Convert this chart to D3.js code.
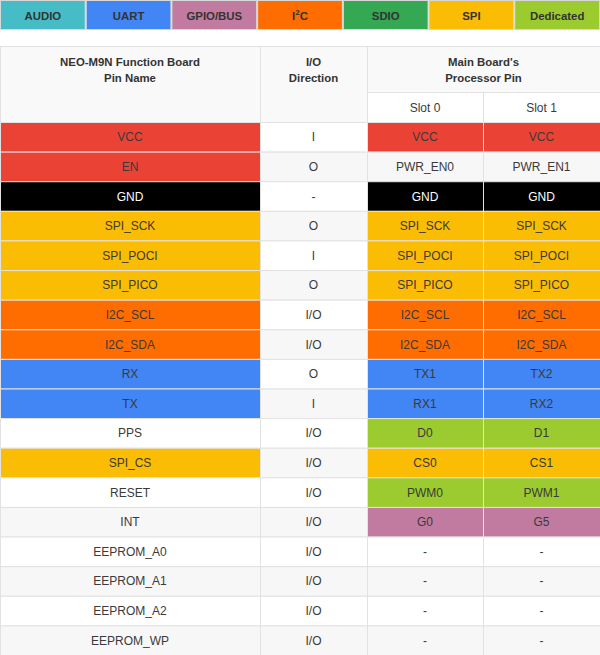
<!DOCTYPE html>
<html>
<head>
<meta charset="utf-8">
<script src="https://cdn.jsdelivr.net/npm/d3@7"></script>
<style>
  html, body { margin: 0; padding: 0; background: #fff; }
  svg { display: block; font-family: "Liberation Sans", Arial, sans-serif; }
</style>
</head>
<body>
<svg id="chart" width="600" height="655"></svg>
<script>
// ---------- data ----------
const legendLabels = ["AUDIO", "UART", "GPIO/BUS", "I2C", "SDIO", "SPI", "Dedicated"];
const legendKeys   = ["audio", "uart", "gpio", "i2c", "sdio", "spi", "dedicated"];

const pinNames = ["VCC", "EN", "GND", "SPI_SCK", "SPI_POCI", "SPI_PICO", "I2C_SCL", "I2C_SDA",
  "RX", "TX", "PPS", "SPI_CS", "RESET", "INT", "EEPROM_A0", "EEPROM_A1", "EEPROM_A2", "EEPROM_WP"];
const ioDirections = ["I", "O", "-", "O", "I", "O", "I/O", "I/O", "O", "I", "I/O", "I/O", "I/O", "I/O",
  "I/O", "I/O", "I/O", "I/O"];
const slot0Pins = ["VCC", "PWR_EN0", "GND", "SPI_SCK", "SPI_POCI", "SPI_PICO", "I2C_SCL", "I2C_SDA",
  "TX1", "RX1", "D0", "CS0", "PWM0", "G0", "-", "-", "-", "-"];
const slot1Pins = ["VCC", "PWR_EN1", "GND", "SPI_SCK", "SPI_POCI", "SPI_PICO", "I2C_SCL", "I2C_SDA",
  "TX2", "RX2", "D1", "CS1", "PWM1", "G5", "-", "-", "-", "-"];
const pinCategory = ["power", "power", "gnd", "spi", "spi", "spi", "i2c", "i2c", "uart", "uart",
  "none", "spi", "none", "none", "none", "none", "none", "none"];
const slotCategory = ["power", "none", "gnd", "spi", "spi", "spi", "i2c", "i2c", "uart", "uart",
  "dedicated", "spi", "dedicated", "gpio", "none", "none", "none", "none"];

const headerCol1 = ["NEO-M9N Function Board", "Pin Name"];
const headerCol2 = ["I/O", "Direction"];
const headerMain = ["Main Board's", "Processor Pin"];
const slotLabels = ["Slot 0", "Slot 1"];

// ---------- scales ----------
const W = 600;
const color = d3.scaleOrdinal()
  .domain(["audio", "uart", "gpio", "i2c", "sdio", "spi", "dedicated", "power", "gnd"])
  .range(["#46bdc6", "#4285f4", "#c27ba0", "#ff6d01", "#34a853", "#fbbc04", "#9bcb2f", "#ea4335", "#000000"]);

const legendX = d3.scaleBand().domain(legendKeys).range([0, W]);
const colEdges = [0, 260, 367, 483, 600];
const rowY = d3.scaleBand().domain(d3.range(pinNames.length)).range([122, 655]);

const svg = d3.select("#chart");
const textColor = "#333";
const bodyColor = "#3a3a3a";
const border = "#e2e2e2";
const boldSize = 11.4;

// ---------- legend ----------
const lg = svg.append("g");
lg.selectAll("rect").data(legendKeys).join("rect")
  .attr("x", d => legendX(d) + 0.5).attr("y", 0.5)
  .attr("width", legendX.bandwidth() - 1).attr("height", 29)
  .attr("fill", d => color(d)).attr("stroke", "#d8d8d8").attr("stroke-width", 1);
const lt = lg.selectAll("text").data(legendKeys).join("text")
  .attr("x", d => legendX(d) + legendX.bandwidth() / 2).attr("y", 19.5)
  .attr("text-anchor", "middle").attr("font-size", boldSize).attr("font-weight", "bold")
  .attr("fill", textColor);
lt.each(function (d, i) {
  const t = d3.select(this);
  const label = legendLabels[i];
  if (label === "I2C") {
    t.append("tspan").text("I");
    t.append("tspan").text("2").attr("font-size", 8).attr("dy", -5);
    t.append("tspan").text("C").attr("dy", 5);
  } else t.text(label);
});

// ---------- header ----------
const hg = svg.append("g");
function cell(g, x0, x1, y0, y1, fill) {
  g.append("rect").attr("x", x0 + 0.5).attr("y", y0 + 0.5)
    .attr("width", x1 - x0).attr("height", y1 - y0)
    .attr("fill", fill).attr("stroke", border).attr("stroke-width", 1);
}
const hTop = 46, hMid = 92, hBot = rowY(0);
cell(hg, colEdges[0], colEdges[1], hTop, hBot, "#f9f9f9");
cell(hg, colEdges[1], colEdges[2], hTop, hBot, "#f9f9f9");
cell(hg, colEdges[2], colEdges[4], hTop, hMid, "#f9f9f9");
cell(hg, colEdges[2], colEdges[3], hMid, hBot, "#ffffff");
cell(hg, colEdges[3], colEdges[4], hMid, hBot, "#ffffff");

function headText(lines, x) {
  hg.append("g").selectAll("text").data(lines).join("text")
    .attr("x", x).attr("y", (d, i) => 65.5 + i * 16)
    .attr("text-anchor", "middle").attr("font-size", boldSize).attr("font-weight", "bold")
    .attr("fill", textColor).text(d => d);
}
headText(headerCol1, (colEdges[0] + colEdges[1]) / 2);
headText(headerCol2, (colEdges[1] + colEdges[2]) / 2);
headText(headerMain, (colEdges[2] + colEdges[4]) / 2);
hg.selectAll("text.slot").data(slotLabels).join("text").attr("class", "slot")
  .attr("x", (d, i) => (colEdges[2 + i] + colEdges[3 + i]) / 2)
  .attr("y", (hMid + hBot) / 2 + 4.5)
  .attr("text-anchor", "middle").attr("font-size", 12).attr("fill", bodyColor).text(d => d);

// ---------- body ----------
const rows = pinNames.map((p, i) => ({
  i,
  cells: [
    { text: p, cat: pinCategory[i] },
    { text: ioDirections[i], cat: "none" },
    { text: slot0Pins[i], cat: slotCategory[i] },
    { text: slot1Pins[i], cat: slotCategory[i] }
  ]
}));

const bg = svg.append("g");
const rg = bg.selectAll("g.row").data(rows).join("g").attr("class", "row");
rg.each(function (r) {
  const g = d3.select(this);
  const y0 = rowY(r.i), y1 = y0 + rowY.bandwidth();
  const stripe = r.i % 2 === 1 ? "#f7f7f7" : "#ffffff";
  r.cells.forEach((c, ci) => {
    const fill = c.cat === "none" ? stripe : color(c.cat);
    g.append("rect").attr("x", colEdges[ci] + 0.5).attr("y", y0 + 0.5)
      .attr("width", colEdges[ci + 1] - colEdges[ci]).attr("height", y1 - y0)
      .attr("fill", fill).attr("stroke", border).attr("stroke-width", 1);
    g.append("text")
      .attr("x", (colEdges[ci] + colEdges[ci + 1]) / 2).attr("y", (y0 + y1) / 2 + 4.5)
      .attr("text-anchor", "middle").attr("font-size", 12)
      .attr("fill", c.cat === "gnd" ? "#ffffff" : bodyColor)
      .text(c.text);
  });
});
</script>
</body>
</html>
